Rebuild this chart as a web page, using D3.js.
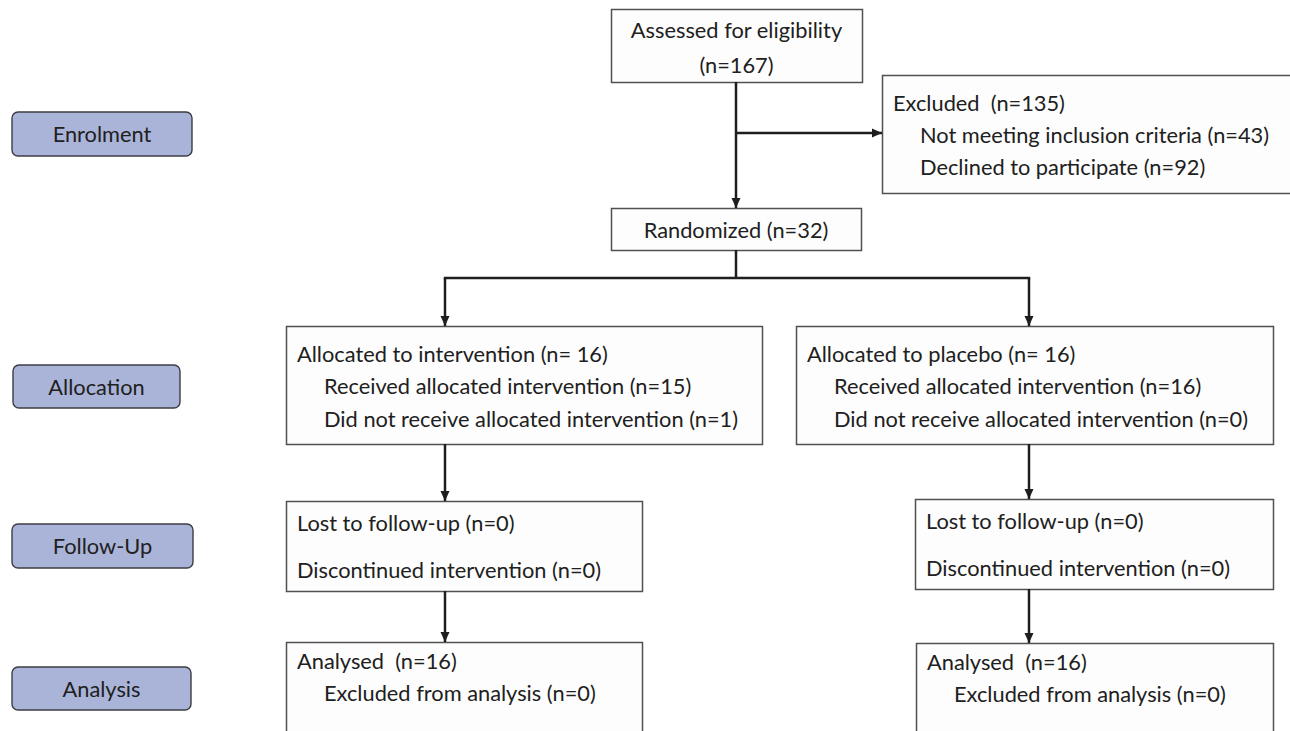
<!DOCTYPE html>
<html>
<head>
<meta charset="utf-8">
<script src="https://cdn.jsdelivr.net/npm/d3@7"></script>
<style>
  body { margin: 0; background: #fff; }
  svg text { font-family: Lato, "Open Sans", sans-serif; fill: #202020; white-space: pre; }
</style>
</head>
<body>
<div id="flow"></div>
<script>
// Data
var stageNames = ["Enrolment", "Allocation", "Follow-Up", "Analysis"];

var enrolLabels = ["Assessed for eligibility", "Excluded ", "Not meeting inclusion criteria", "Declined to participate", "Randomized"];
var enrolCounts = [167, 135, 43, 92, 32];

var arms = ["intervention", "placebo"];
var allocatedN = [16, 16];
var receivedN = [15, 16];
var notReceivedN = [1, 0];
var lostN = [0, 0];
var discontinuedN = [0, 0];
var analysedN = [16, 16];
var excludedAnalysisN = [0, 0];

// Layout
var width = 1290;
var height = 731;
var fontSize = 21.8;

var svg = d3.select("#flow")
  .append("svg")
  .attr("width", width)
  .attr("height", height);

var defs = svg.append("defs");
defs.append("marker")
  .attr("id", "arrow")
  .attr("markerUnits", "userSpaceOnUse")
  .attr("markerWidth", 10)
  .attr("markerHeight", 10)
  .attr("refX", 10)
  .attr("refY", 5)
  .attr("orient", "auto")
  .append("path")
  .attr("d", "M0,0.5 L10,5 L0,9.5 Z")
  .attr("fill", "#1e1e1e");

// stage labels on the left
var stageBoxes = [
  {x: 12, y: 112, w: 180, h: 44},
  {x: 13, y: 365, w: 167, h: 43},
  {x: 12, y: 524, w: 181, h: 44},
  {x: 12, y: 667, w: 179, h: 43}
];

var stages = svg.selectAll("g.stage")
  .data(stageNames)
  .enter()
  .append("g")
  .attr("class", "stage");

stages.append("rect")
  .attr("x", function(d, i) { return stageBoxes[i].x; })
  .attr("y", function(d, i) { return stageBoxes[i].y; })
  .attr("width", function(d, i) { return stageBoxes[i].w; })
  .attr("height", function(d, i) { return stageBoxes[i].h; })
  .attr("rx", 6)
  .attr("fill", "#aab4d8")
  .attr("stroke", "#3c3c44")
  .attr("stroke-width", 1.4);

stages.append("text")
  .attr("x", function(d, i) { return stageBoxes[i].x + stageBoxes[i].w / 2; })
  .attr("y", function(d, i) { return stageBoxes[i].y + stageBoxes[i].h / 2 + 8; })
  .attr("text-anchor", "middle")
  .attr("font-size", fontSize)
  .text(function(d) { return d; });

// boxes of the flow
function n(v) { return "(n=" + v + ")"; }

var boxes = [
  {x: 611, y: 9, w: 251, h: 73, lines: [
    {t: enrolLabels[0], cx: true, y: 38},
    {t: n(enrolCounts[0]), cx: true, y: 73}]},
  {x: 882, y: 75, w: 420, h: 118, lines: [
    {t: enrolLabels[1] + " " + n(enrolCounts[1]), lv: 0, y: 111},
    {t: enrolLabels[2] + " " + n(enrolCounts[2]), lv: 1, y: 143},
    {t: enrolLabels[3] + " " + n(enrolCounts[3]), lv: 1, y: 175}]},
  {x: 611, y: 208, w: 250, h: 42, lines: [
    {t: enrolLabels[4] + " " + n(enrolCounts[4]), cx: true, y: 238}]}
];

var allocX = [{x: 286, w: 476}, {x: 796, w: 477}];
var followX = [{x: 286, w: 356, y: 501}, {x: 915, w: 358, y: 499}];
var analysisX = [{x: 286, w: 356, y: 642}, {x: 916, w: 357, y: 643}];

arms.forEach(function(arm, i) {
  boxes.push({x: allocX[i].x, y: 326, w: allocX[i].w, h: 118, lines: [
    {t: "Allocated to " + arm + " (n= " + allocatedN[i] + ")", lv: 0, y: 362},
    {t: "Received allocated intervention " + n(receivedN[i]), lv: 1, y: 394},
    {t: "Did not receive allocated intervention " + n(notReceivedN[i]), lv: 1, y: 427}]});
  boxes.push({x: followX[i].x, y: followX[i].y, w: followX[i].w, h: 90, lines: [
    {t: "Lost to follow-up " + n(lostN[i]), lv: 0, y: followX[i].y + 30},
    {t: "Discontinued intervention " + n(discontinuedN[i]), lv: 0, y: followX[i].y + 77}]});
  boxes.push({x: analysisX[i].x, y: analysisX[i].y, w: analysisX[i].w, h: 100, lines: [
    {t: "Analysed  " + n(analysedN[i]), lv: 0, y: analysisX[i].y + 27},
    {t: "Excluded from analysis " + n(excludedAnalysisN[i]), lv: 1, y: analysisX[i].y + 59}]});
});

var boxG = svg.selectAll("g.box")
  .data(boxes)
  .enter()
  .append("g")
  .attr("class", "box");

boxG.append("rect")
  .attr("x", function(d) { return d.x + 0.5; })
  .attr("y", function(d) { return d.y + 0.5; })
  .attr("width", function(d) { return d.w; })
  .attr("height", function(d) { return d.h; })
  .attr("fill", "#fdfdfd")
  .attr("stroke", "#505050")
  .attr("stroke-width", 1.5);

boxG.selectAll("text")
  .data(function(d) {
    return d.lines.map(function(l) { return {box: d, line: l}; });
  })
  .enter()
  .append("text")
  .attr("x", function(d) {
    if (d.line.cx) return d.box.x + d.box.w / 2;
    return d.box.x + 11 + d.line.lv * 27;
  })
  .attr("y", function(d) { return d.line.y; })
  .attr("text-anchor", function(d) { return d.line.cx ? "middle" : "start"; })
  .attr("font-size", fontSize)
  .text(function(d) { return d.line.t; });

// connectors
var midX = 736;
var colX = [445, 1029];
var branchY = 278;

var links = [
  {x1: midX, y1: 82, x2: midX, y2: 208, arrow: true},
  {x1: midX, y1: 133, x2: 882, y2: 133, arrow: true},
  {x1: midX, y1: 250, x2: midX, y2: branchY, arrow: false},
  {x1: colX[0] - 1.2, y1: branchY, x2: colX[1] + 1.2, y2: branchY, arrow: false}
];
colX.forEach(function(cx, i) {
  links.push({x1: cx, y1: branchY, x2: cx, y2: 326, arrow: true});
  links.push({x1: cx, y1: 444, x2: cx, y2: followX[i].y, arrow: true});
  links.push({x1: cx, y1: followX[i].y + 90, x2: cx, y2: analysisX[i].y, arrow: true});
});

svg.selectAll("line.link")
  .data(links)
  .enter()
  .append("line")
  .attr("class", "link")
  .attr("x1", function(d) { return d.x1; })
  .attr("y1", function(d) { return d.y1; })
  .attr("x2", function(d) { return d.x2; })
  .attr("y2", function(d) { return d.y2; })
  .attr("stroke", "#1e1e1e")
  .attr("stroke-width", 2.5)
  .attr("marker-end", function(d) { return d.arrow ? "url(#arrow)" : null; });
</script>
</body>
</html>
